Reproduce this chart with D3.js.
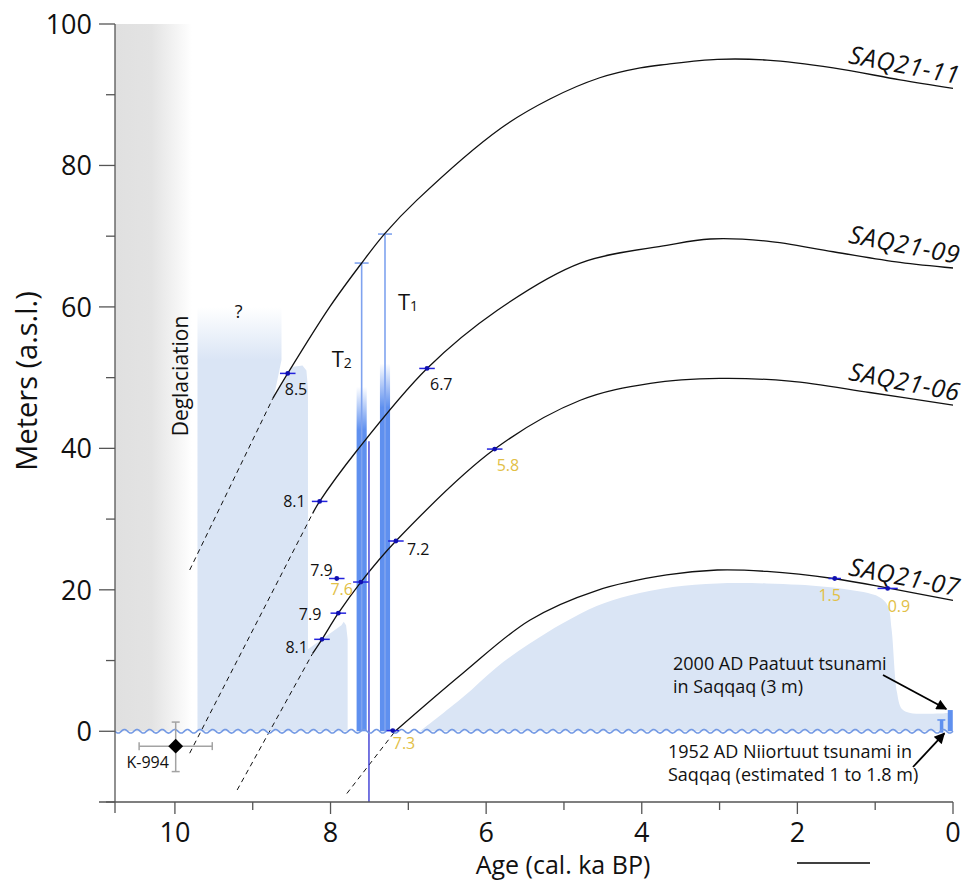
<!DOCTYPE html>
<html><head><meta charset="utf-8">
<script src="https://cdn.jsdelivr.net/npm/d3@7"></script>
<style>
body{margin:0;background:#fff}
svg{display:block}
text{font-family:"Open Sans",sans-serif;fill:#111}
</style></head>
<body><svg id="chart" width="962" height="882"></svg>
<script>
// ---------------- DATA ----------------
const xTicksMajor = [10, 8, 6, 4, 2, 0];
const xTicksMinor = [9, 7, 5, 3, 1];
const yTicksMajor = [100, 80, 60, 40, 20, 0];
const yTicksMinor = [90, 70, 50, 30, 10, -10];

// shoreline (relative sea-level) curves: [age ka BP, metres]
const saqNames = ["SAQ21-11", "SAQ21-09", "SAQ21-06", "SAQ21-07"];
const saq11Dashed = [[9.81, 22.8], [8.74, 47.1]];
const saq11Solid = [[8.74, 47.1], [8.55, 50.6], [8.01, 60.0], [7.60, 66.2], [7.30, 70.4], [6.89, 75.1], [5.82, 85.2], [5.18, 89.4], [4.54, 92.4], [4.02, 93.8], [3.68, 94.3], [3.03, 95.0], [2.39, 94.9], [1.54, 93.8], [0.68, 92.1], [0, 90.9]];
const saq09Dashed = [[9.81, -3.1], [8.23, 30.8]];
const saq09Solid = [[8.23, 30.8], [8.14, 32.5], [7.66, 39.7], [6.76, 51.3], [5.86, 59.5], [4.79, 66.2], [3.68, 68.7], [3.12, 69.6], [2.39, 69.3], [1.54, 67.8], [0.68, 66.3], [0, 65.5]];
const saq06Dashed = [[9.20, -8.3], [8.23, 11.0]];
const saq06Solid = [[8.23, 11.0], [8.11, 13.0], [7.90, 16.7], [7.61, 21.1], [7.16, 26.9], [5.89, 39.9], [4.79, 46.8], [3.89, 49.2], [3.00, 49.9], [2.10, 49.5], [1.07, 47.9], [0, 46.1]];
const saq07Dashed = [[7.79, -8.8], [7.17, 0.0]];
const saq07Solid = [[7.17, 0.0], [6.30, 8.2], [5.44, 15.7], [4.58, 19.9], [3.68, 22.1], [3.03, 22.8], [2.39, 22.6], [1.54, 21.6], [0.81, 20.2], [0, 18.5]];

// dated samples (age label, position, error in ka, label group)
const markerLabels = ["8.5", "8.1", "6.7", "5.8", "7.9", "7.6", "7.9", "8.1", "7.2", "7.3", "1.5", "0.9"];
const markerAges   = [8.55, 8.14, 6.76, 5.89, 7.92, 7.61, 7.90, 8.11, 7.16, 7.20, 1.52, 0.84];
const markerValues = [50.6, 32.5, 51.3, 39.9, 21.6, 21.1, 16.7, 13.0, 26.9, 0.1, 21.6, 20.2];
const markerErrors = [0.10, 0.10, 0.10, 0.10, 0.10, 0.10, 0.10, 0.10, 0.10, 0.08, 0.08, 0.13];
const markerGroups = ["black", "black", "black", "gold", "black", "gold", "black", "black", "black", "gold", "gold", "gold"];

// tsunami deposits
const tsunamiNames = ["1", "2"];
const tsunamiAges = [7.30, 7.60];
const tsunamiTops = [70.3, 66.2];
const tsunamiFadeTop = [52.0, 48.7];
const tsunamiSolidFrom = [45.8, 42.6];
const dividerAge = 7.506, dividerTop = 41.0;

// modern tsunamis [age, height m]
const modernNames = ["2000 AD Paatuut", "1952 AD Niiortuut"];
const modernAges = [0.035, 0.15];
const modernHeights = [3.0, 1.6];

// K-994 radiocarbon date
const k994 = {age: 9.99, value: -2.1, ageMin: 9.52, ageMax: 10.46, valMin: -5.7, valMax: 1.3};

// grey deglaciation band and shaded marine areas
const deglacAges = [10.77, 10.3, 9.78];
const shadeWest = [[9.71, 0], [9.71, 60], [8.63, 60], [8.63, 52.5], [8.73, 47.2], [8.56, 50.2], [8.50, 51.5], [8.36, 51.7], [8.31, 51.0], [8.29, 48.5], [8.29, 11.6], [7.86, 15.0], [7.83, 15.5], [7.80, 15.0], [7.78, 13.0], [7.78, 0]];
const shadeFade = [60, 52.5];
const shadeEast = [[6.85, 0], [6.30, 4.8], [5.86, 9.1], [5.44, 12.4], [5.01, 15.3], [4.58, 17.7], [4.16, 19.2], [3.60, 20.4], [3.03, 20.9], [2.40, 20.9], [1.97, 20.7], [1.40, 20.1], [0.95, 19.0], [0.84, 17.8], [0.79, 14.5], [0.72, 5.5], [0.66, 3.2], [0.55, 2.6], [0.15, 2.5], [0.05, 2.5], [0.05, 0]];

// ---------------- CHART ----------------
const svg = d3.select("#chart");
const x = d3.scaleLinear().domain([10.77, 0]).range([115, 953]);
const y = d3.scaleLinear().domain([-10, 100]).range([802, 24]);
const defs = svg.append("defs");

const BLUE_SHADE = "#dae5f5", BAR = "#5f90ef", THIN = "#7fa3ef", DARK = "#2d2dd0", MK = "#2222dd", GOLD = "#e2c046";

// gradients
const gg = defs.append("linearGradient").attr("id", "grayG").attr("gradientUnits", "userSpaceOnUse")
  .attr("x1", x(deglacAges[0])).attr("x2", x(deglacAges[2])).attr("y1", 0).attr("y2", 0);
const midOff = (x(deglacAges[1]) - x(deglacAges[0])) / (x(deglacAges[2]) - x(deglacAges[0]));
gg.append("stop").attr("offset", 0).attr("stop-color", "#e0e0e0");
gg.append("stop").attr("offset", midOff).attr("stop-color", "#e3e3e3");
gg.append("stop").attr("offset", midOff + (1 - midOff) * 0.5).attr("stop-color", "#f1f1f1");
gg.append("stop").attr("offset", 1).attr("stop-color", "#ffffff");

const sg = defs.append("linearGradient").attr("id", "shadeG").attr("gradientUnits", "userSpaceOnUse")
  .attr("x1", 0).attr("x2", 0).attr("y1", y(shadeFade[0])).attr("y2", y(shadeFade[1]));
sg.append("stop").attr("offset", 0).attr("stop-color", BLUE_SHADE).attr("stop-opacity", 0);
sg.append("stop").attr("offset", 1).attr("stop-color", BLUE_SHADE).attr("stop-opacity", 1);

tsunamiAges.forEach((a, i) => {
  const g = defs.append("linearGradient").attr("id", "tg" + i).attr("gradientUnits", "userSpaceOnUse")
    .attr("x1", 0).attr("x2", 0).attr("y1", y(tsunamiFadeTop[i])).attr("y2", y(tsunamiSolidFrom[i]));
  g.append("stop").attr("offset", 0).attr("stop-color", BAR).attr("stop-opacity", 0);
  g.append("stop").attr("offset", 1).attr("stop-color", BAR).attr("stop-opacity", 1);
});

defs.append("marker").attr("id", "arrow").attr("viewBox", "0 0 10 10").attr("refX", 9).attr("refY", 5)
  .attr("markerWidth", 7).attr("markerHeight", 6).attr("orient", "auto").attr("markerUnits", "strokeWidth")
  .append("path").attr("d", "M0,0 L10,5 L0,10 Z").attr("fill", "#000");

// deglaciation grey band
svg.append("rect").attr("x", x(deglacAges[0])).attr("y", y(100))
  .attr("width", x(deglacAges[2]) - x(deglacAges[0])).attr("height", y(0) - y(100)).attr("fill", "url(#grayG)");

// shaded areas
const area = d3.line().x(d => x(d[0])).y(d => y(d[1]));
svg.append("path").attr("d", area(shadeWest) + "Z").attr("fill", "url(#shadeG)");
const smooth = d3.line().x(d => x(d[0])).y(d => y(d[1])).curve(d3.curveCatmullRom.alpha(0.5));
svg.append("path").attr("d", smooth(shadeEast) + "Z").attr("fill", BLUE_SHADE);

// tsunami bars
tsunamiAges.forEach((a, i) => {
  svg.append("rect").attr("x", x(a + 0.065)).attr("width", x(a - 0.065) - x(a + 0.065))
    .attr("y", y(tsunamiFadeTop[i])).attr("height", y(0) - y(tsunamiFadeTop[i])).attr("fill", `url(#tg${i})`);
  svg.append("line").attr("x1", x(a)).attr("x2", x(a)).attr("y1", y(tsunamiTops[i])).attr("y2", y(0))
    .attr("stroke", THIN).attr("stroke-width", 1.6);
  svg.append("line").attr("x1", x(a) - 7).attr("x2", x(a) + 7).attr("y1", y(tsunamiTops[i])).attr("y2", y(tsunamiTops[i]))
    .attr("stroke", THIN).attr("stroke-width", 1.6);
});

// modern tsunami bars
svg.append("rect").attr("x", x(modernAges[0]) - 2.5).attr("width", 5).attr("y", y(modernHeights[0])).attr("height", y(0) - y(modernHeights[0])).attr("fill", BAR);
svg.append("rect").attr("x", x(modernAges[1]) - 1.5).attr("width", 3.5).attr("y", y(modernHeights[1])).attr("height", y(-0.2) - y(modernHeights[1])).attr("fill", BAR);
svg.append("line").attr("x1", x(modernAges[1]) - 4).attr("x2", x(modernAges[1]) + 4).attr("y1", y(modernHeights[1])).attr("y2", y(modernHeights[1])).attr("stroke", BAR).attr("stroke-width", 1.5);

// shoreline curves
const curveLine = d3.line().x(d => x(d[0])).y(d => y(d[1])).curve(d3.curveCatmullRom.alpha(0.5));
[[saq11Dashed, saq11Solid], [saq09Dashed, saq09Solid], [saq06Dashed, saq06Solid], [saq07Dashed, saq07Solid]].forEach(([dsh, sol], i) => {
  svg.append("path").attr("d", curveLine(dsh)).attr("fill", "none").attr("stroke", "#111").attr("stroke-width", 1).attr("stroke-dasharray", "5,4");
  svg.append("path").attr("d", curveLine(sol)).attr("fill", "none").attr("stroke", "#111").attr("stroke-width", 1.3);
  const end = sol[sol.length - 1];
  svg.append("text").attr("transform", `translate(${x(end[0]) + 5},${y(end[1]) - 4}) rotate(11)`)
    .attr("text-anchor", "end").attr("font-size", 25).attr("letter-spacing", 0.6).attr("font-style", "italic").text(saqNames[i]);
});

// divider line
svg.append("line").attr("x1", x(dividerAge)).attr("x2", x(dividerAge)).attr("y1", y(dividerTop)).attr("y2", y(-10))
  .attr("stroke", DARK).attr("stroke-width", 1.3);

// wavy sea-level line
const wave = d3.range(x.range()[0], x.range()[1] + 0.5, 0.5).map(px => [px, y(0) + 1.8 * Math.sin((px - x.range()[0]) / 12.6 * 2 * Math.PI)]);
svg.append("path").attr("d", d3.line()(wave)).attr("fill", "none").attr("stroke", "#7399e4").attr("stroke-width", 1.6);

// K-994
const kg = svg.append("g").attr("stroke", "#a3a3a3").attr("stroke-width", 1.5);
kg.append("line").attr("x1", x(k994.ageMax)).attr("x2", x(k994.ageMin)).attr("y1", y(k994.value)).attr("y2", y(k994.value));
kg.append("line").attr("x1", x(k994.age)).attr("x2", x(k994.age)).attr("y1", y(k994.valMax)).attr("y2", y(k994.valMin));
[k994.ageMax, k994.ageMin].forEach(a => kg.append("line").attr("x1", x(a)).attr("x2", x(a)).attr("y1", y(k994.value) - 4).attr("y2", y(k994.value) + 4));
[k994.valMax, k994.valMin].forEach(v => kg.append("line").attr("x1", x(k994.age) - 4).attr("x2", x(k994.age) + 4).attr("y1", y(v)).attr("y2", y(v)));
svg.append("path").attr("d", d3.symbol(d3.symbolSquare, 110)()).attr("transform", `translate(${x(k994.age)},${y(k994.value)}) rotate(45)`).attr("fill", "#000");
svg.append("text").attr("x", x(k994.age) - 28).attr("y", y(k994.value) + 22).attr("text-anchor", "middle").attr("font-size", 16).text("K-994");

// markers
const labelOffsets = [[-3, 22, "start"], [-14, 6, "end"], [3, 22, "start"], [2, 22, "start"], [-4, -3, "end"], [-8, 13, "end"],
  [-17, 7, "end"], [-14, 14, "end"], [11, 14, "start"], [0, 18, "start"], [-5, 22, "middle"], [0, 24, "start"]];
markerAges.forEach((a, i) => {
  const cx = x(a), cy = y(markerValues[i]);
  svg.append("line").attr("x1", x(a + markerErrors[i])).attr("x2", x(a - markerErrors[i])).attr("y1", cy).attr("y2", cy)
    .attr("stroke", MK).attr("stroke-width", 1.5);
  svg.append("circle").attr("cx", cx).attr("cy", cy).attr("r", 2.4).attr("fill", "#1010b0");
  const o = labelOffsets[i];
  svg.append("text").attr("x", cx + o[0]).attr("y", cy + o[1]).attr("text-anchor", o[2]).attr("font-size", 16)
    .style("fill", markerGroups[i] === "gold" ? GOLD : "#111").text(markerLabels[i]);
});

// tsunami labels
const tLabelPos = [[x(tsunamiAges[0]) + 13, y(tsunamiTops[0]) + 76], [x(tsunamiAges[1]) - 30, y(tsunamiTops[1]) + 104]];
tsunamiNames.forEach((n, i) => {
  const t = svg.append("text").attr("x", tLabelPos[i][0]).attr("y", tLabelPos[i][1]).attr("font-size", 22);
  t.append("tspan").text("T");
  t.append("tspan").attr("font-size", 14).attr("dy", 1).text(n);
});

// deglaciation text and question mark
svg.append("text").attr("transform", `translate(${x(9.83)},376) rotate(-90)`).attr("text-anchor", "middle").attr("font-size", 21).text("Deglaciation");
svg.append("text").attr("x", x(9.18)).attr("y", 318).attr("text-anchor", "middle").attr("font-size", 18).text("?");

// annotations
const ann1 = svg.append("text").attr("font-size", 18);
ann1.append("tspan").attr("x", 673).attr("y", 670).text("2000 AD Paatuut tsunami");
ann1.append("tspan").attr("x", 673).attr("y", 693).text("in Saqqaq (3 m)");
const ann2 = svg.append("text").attr("font-size", 18);
ann2.append("tspan").attr("x", 668).attr("y", 758).text("1952 AD Niiortuut tsunami in");
ann2.append("tspan").attr("x", 668).attr("y", 781).text("Saqqaq (estimated 1 to 1.8 m)");
svg.append("line").attr("x1", 883).attr("y1", 675).attr("x2", x(modernAges[0]) - 4).attr("y2", y(modernHeights[0]) - 1)
  .attr("stroke", "#000").attr("stroke-width", 1.8).attr("marker-end", "url(#arrow)");
svg.append("line").attr("x1", 913).attr("y1", 767).attr("x2", x(modernAges[1]) + 3).attr("y2", y(-0.3))
  .attr("stroke", "#000").attr("stroke-width", 1.8).attr("marker-end", "url(#arrow)");

// axes
const axG = svg.append("g").attr("stroke", "#555").attr("stroke-width", 1.3);
axG.append("line").attr("x1", 99).attr("x2", x(0)).attr("y1", y(-10)).attr("y2", y(-10));
axG.append("line").attr("x1", x.range()[0]).attr("x2", x.range()[0]).attr("y1", y(100)).attr("y2", y(-10) + 11);
yTicksMajor.forEach(v => axG.append("line").attr("x1", 99).attr("x2", x.range()[0]).attr("y1", y(v)).attr("y2", y(v)));
yTicksMinor.forEach(v => axG.append("line").attr("x1", 106).attr("x2", x.range()[0]).attr("y1", y(v)).attr("y2", y(v)));
xTicksMajor.forEach(a => axG.append("line").attr("x1", x(a)).attr("x2", x(a)).attr("y1", y(-10)).attr("y2", y(-10) + 12));
xTicksMinor.forEach(a => axG.append("line").attr("x1", x(a)).attr("x2", x(a)).attr("y1", y(-10)).attr("y2", y(-10) + 8));

yTicksMajor.forEach(v => svg.append("text").attr("x", 92).attr("y", y(v) + 10).attr("text-anchor", "end").attr("font-size", 27).text(v));
xTicksMajor.forEach(a => svg.append("text").attr("x", x(a)).attr("y", 842).attr("text-anchor", "middle").attr("font-size", 27).text(a));

svg.append("text").attr("x", 563).attr("y", 874).attr("text-anchor", "middle").attr("font-size", 25).text("Age (cal. ka BP)");
svg.append("text").attr("transform", "translate(37,381) rotate(-90)").attr("text-anchor", "middle").attr("font-size", 29).text("Meters (a.s.l.)");
svg.append("line").attr("x1", 797).attr("x2", 870).attr("y1", 863).attr("y2", 863).attr("stroke", "#000").attr("stroke-width", 1.3);
</script></body></html>
